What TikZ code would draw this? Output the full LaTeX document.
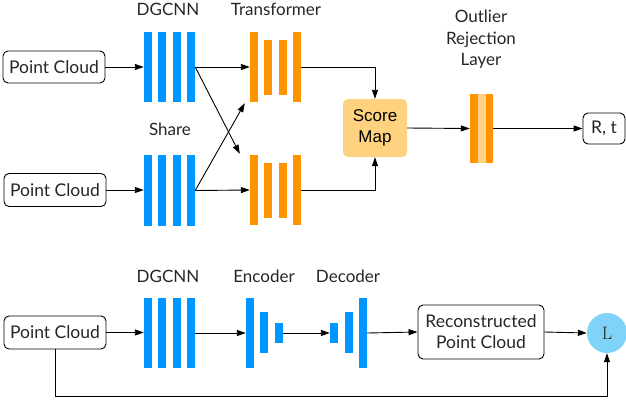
\documentclass[tikz,border=0pt]{standalone}
\usepackage{fontspec}
\setmainfont{Lato}
\newfontfamily\armfont{Liberation Sans}
\newfontfamily\lossfont{Latin Modern Roman}
\usetikzlibrary{arrows.meta,calc}
\definecolor{barblue}{HTML}{0096FF}
\definecolor{barorange}{HTML}{FF9300}
\definecolor{lightorange}{HTML}{FED27E}
\definecolor{lossblue}{HTML}{7FD2F8}
\begin{document}
\begin{tikzpicture}[x=1pt,y=-1pt,
  bb/.style={fill=barblue,draw=none,inner sep=0,minimum width=8pt},
  ob/.style={fill=barorange,draw=none,inner sep=0,minimum width=8pt},
  box/.style={draw,rounded corners=5pt,line width=0.9pt,inner sep=0,font=\fontsize{17.5}{21}\selectfont,align=center,text=black!85},
  lab/.style={font=\fontsize{17}{21}\selectfont,align=center,text=black!85,anchor=base,inner sep=0},
  arr/.style={-{Triangle[length=9pt,width=6pt]},line width=0.9pt},
  ln/.style={line width=0.9pt}]
\useasboundingbox (0,0) rectangle (626,402);
% ---------- top: registration ----------
\node[box,minimum width=102pt,minimum height=32pt] (pc1) at (54,67) {Point Cloud};
\node[box,minimum width=102pt,minimum height=33pt] (pc2) at (55,190) {Point Cloud};
\foreach \i/\x in {1/148,2/162,3/177,4/191}{
  \node[bb,minimum height=70pt] (da\i) at (\x,67) {};
  \node[bb,minimum height=71pt] (db\i) at (\x,190.5) {};
}
\foreach \i/\x/\h in {1/254/70,2/268/55,3/283/55,4/297/70}{
  \node[ob,minimum height=\h pt] (ta\i) at (\x,67) {};
  \node[ob,minimum height=\h pt] (tb\i) at (\x,190) {};
}
\node[lab] (lda) at (168,15) {DGCNN};
\node[lab] (ltr) at (276,15) {Transformer};
\node[lab] (lsh) at (170,135) {Share};
\node[fill=lightorange,rounded corners=5pt,minimum width=64pt,minimum height=58pt,inner sep=0,
      align=center,font=\armfont\fontsize{17}{21}\selectfont] (sm) at (375,128) {Score\\Map};
\node[fill=barorange,inner sep=0,minimum width=23pt,minimum height=69pt] (ol) at (481.5,128.5) {};
\node[fill=lightorange,inner sep=0,minimum width=8pt,minimum height=69pt] (ols) at (481.5,128.5) {};
\node[lab] (lo1) at (481,22.5) {Outlier};
\node[lab] (lo2) at (481,44.5) {Rejection};
\node[lab] (lo3) at (481,65) {Layer};
\node[box,minimum width=42pt,minimum height=31pt] (rt) at (604,128.5) {R, t};
\draw[arr] (pc1.east) -- (da1.west |- pc1.east);
\draw[arr] (pc2.east) -- (db1.west |- pc2.east);
\draw[arr] (da4.east) -- (ta1.west);
\draw[arr] (db4.east) -- (tb1.west);
\draw[arr] (da4.east) -- ($(tb1.north west)+(-10,-1)$);
\draw[arr] (db4.east) -- ($(ta1.south west)+(-5,1)$);
\draw[arr] (ta4.east) -| (sm.north);
\draw[arr] (tb4.east) -| (sm.south);
\draw[arr] (sm.east) -- (ol.west);
\draw[arr] (ol.east) -- (rt.west);
% ---------- bottom: reconstruction ----------
\node[box,minimum width=102pt,minimum height=33pt] (pc3) at (55,332.5) {Point Cloud};
\foreach \i/\x in {1/148,2/162,3/177,4/191}{
  \node[bb,minimum height=70pt] (dc\i) at (\x,333) {};
}
\node[bb,minimum height=70pt] (e1) at (250,333) {};
\node[bb,minimum height=41pt] (e2) at (264,332.5) {};
\node[bb,minimum height=20pt] (e3) at (279,333) {};
\node[bb,minimum height=20pt] (d1) at (334,333) {};
\node[bb,minimum height=41pt] (d2) at (349,332.5) {};
\node[bb,minimum height=70pt] (d3) at (363,333) {};
\node[lab] (ldc) at (168,282) {DGCNN};
\node[lab] (len) at (264,282) {Encoder};
\node[lab] (lde) at (348,282) {Decoder};
\node[box,minimum width=126pt,minimum height=54pt] (rec) at (481,332) {Reconstructed\\Point Cloud};
\node[circle,fill=lossblue,minimum size=40pt,inner sep=0,font=\lossfont\fontsize{18}{20}\selectfont,text=black!85] (loss) at (607,333) {L};
\draw[arr] (pc3.east) -- (dc1.west |- pc3.east);
\draw[arr] (dc4.east) -- (e1.west);
\draw[arr] (e3.east) -- (d1.west);
\draw[arr] (d3.east) -- (rec.west);
\draw[arr] (rec.east) -- (loss.west);
\draw[arr] (pc3.south) -- ++(0,47) -| (loss.south);
\end{tikzpicture}
\end{document}
